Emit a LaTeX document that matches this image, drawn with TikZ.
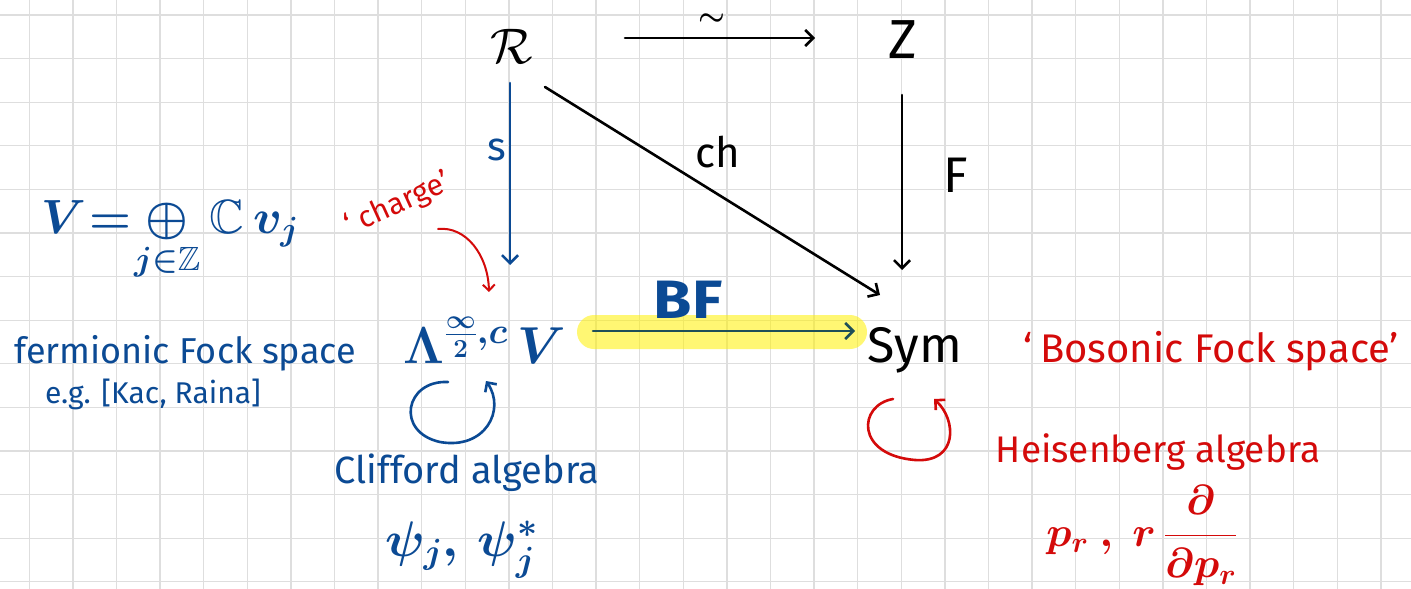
\RequirePackage{fix-cm}
\documentclass[tikz,border=0pt]{standalone}
\usepackage{amssymb}
\usepackage{fontspec}
\setmainfont{Fira Sans}
\usetikzlibrary{arrows.meta}
\definecolor{inkblue}{HTML}{0B4A94}
\definecolor{inkred}{HTML}{D40A0A}
\definecolor{gridgray}{HTML}{DEDEDE}
\definecolor{inkteal}{HTML}{1F4F58}
\newcommand\fsz[1]{\fontsize{#1}{#1}\selectfont}
\tikzset{
  ink/.style={line width=2.6pt, line cap=round, line join=round},
  arr/.style={ink, -{Straight Barb[length=8pt,width=16pt]}},
  lbl/.style={inner sep=0pt, anchor=base},
  gridline/.style={gridgray, line width=1.3pt},
}
\begin{document}
\begin{tikzpicture}[x=1pt,y=-1pt]
\useasboundingbox (0,0) rectangle (1411,589);
\fill[white] (0,0) rectangle (1411,589);
\foreach \i in {0,...,31} \draw[gridline] ({29.3+43.6*\i},0) -- ({29.3+43.6*\i},589);
\foreach \j in {0,...,13} \draw[gridline] (0,{15+43.6*\j}) -- (1411,{15+43.6*\j});

% highlight behind BF arrow
\fill[yellow, opacity=0.55, rounded corners=17pt] (577,315) rectangle (867,349);

% main nodes
\node[lbl, font=\fsz{50}] (R) at (512,63) {$\boldmath\mathcal{R}$};
\node[lbl, font=\fsz{55}] (Z) at (903,58) {Z};
\node[lbl, font=\fsz{50}] (Sym) at (915,362) {Sym};
\node[lbl, font=\fsz{52}\boldmath, text=inkblue] (L) at (485,363) {$\Lambda^{\frac{\infty}{2},c}\,V$};

% arrows
\draw[arr] ([xshift=113pt,yshift=25pt]R.base) -- ([xshift=-88pt,yshift=20pt]Z.base);
\node[lbl, font=\fsz{30}\boldmath] (tl) at (712,25) {$\sim$};
\draw[arr, inkblue] ([xshift=-2pt,yshift=-20pt]R.base) -- ([xshift=25pt,yshift=98pt]L.base);
\draw[arr] ([xshift=33pt,yshift=-24pt]R.base) -- ([xshift=-35pt,yshift=67pt]Sym.base);
\draw[arr] ([xshift=-1pt,yshift=-37pt]Z.base) -- ([xshift=-13pt,yshift=92pt]Sym.base);
\draw[arr, inkteal] ([xshift=108pt,yshift=32pt]L.base) -- ([xshift=-60pt,yshift=31pt]Sym.base);

% arrow labels
\node[lbl, font=\fsz{40}, text=inkblue] (s) at (497,160) {s};
\node[lbl, font=\fsz{42}] (ch) at (718,167) {ch};
\node[lbl, font=\fsz{50}] (F) at (956,192) {F};
\node[lbl, font=\bfseries\fsz{54}, text=inkblue, xscale=1.15] (BF) at (688,318) {BF};

% left blue texts
\node[lbl, font=\fsz{48}\boldmath, text=inkblue] (Vdef) at (170,233)
  {$V\mkern-4mu=\mkern-4mu\mathop{\oplus}\limits_{j\in\mathbb{Z}}\mathbb{C}\,v_j$};
\node[lbl, font=\fsz{36}, text=inkblue] (ferm) at (185,363) {fermionic Fock space};
\node[lbl, font=\fsz{30}, text=inkblue] (eg) at (153,403) {e.g. [Kac, Raina]};
\node[lbl, font=\fsz{38}, text=inkblue] (cliff) at (467,483) {Clifford algebra};
\node[lbl, font=\fsz{50}\boldmath, text=inkblue] (psi) at (462,556) {$\psi_j,\,\psi_j^{*}$};

% charge
\node[font=\fsz{30}, text=inkred, rotate=24.5] (charge) at (398,205) {‘\hspace{8pt}charge’};
\coordinate (chs) at (438,229);
\coordinate (che) at (489,292);
\draw[inkred, line width=2pt, line cap=round, -{Straight Barb[length=6pt,width=12pt]}]
  (chs) .. controls (466,226) and (488,255) .. (che);

% loops
\draw[ink, inkblue, -{Straight Barb[length=7pt,width=14pt]}]
  (448,382) .. controls (405,380) and (395,432) .. (440,442)
  .. controls (485,450) and (506,410) .. (486,381);
\draw[ink, inkred, -{Straight Barb[length=7pt,width=14pt]}]
  (893,399) .. controls (858,405) and (855,455) .. (915,460)
  .. controls (958,463) and (957,420) .. (934,399);

% right red texts
\node[lbl, font=\fsz{40}, text=inkred] (boson) at (1211,362) {‘\hspace{8pt}Bosonic Fock space’};
\node[lbl, font=\fsz{37}, text=inkred] (heis) at (1158,462) {Heisenberg algebra};
\node[lbl, font=\fsz{42}\boldmath, text=inkred] (pr) at (1142,546) {$p_r\ ,\ r\,{\displaystyle\frac{\partial}{\partial p_r}}$};
\end{tikzpicture}
\end{document}
